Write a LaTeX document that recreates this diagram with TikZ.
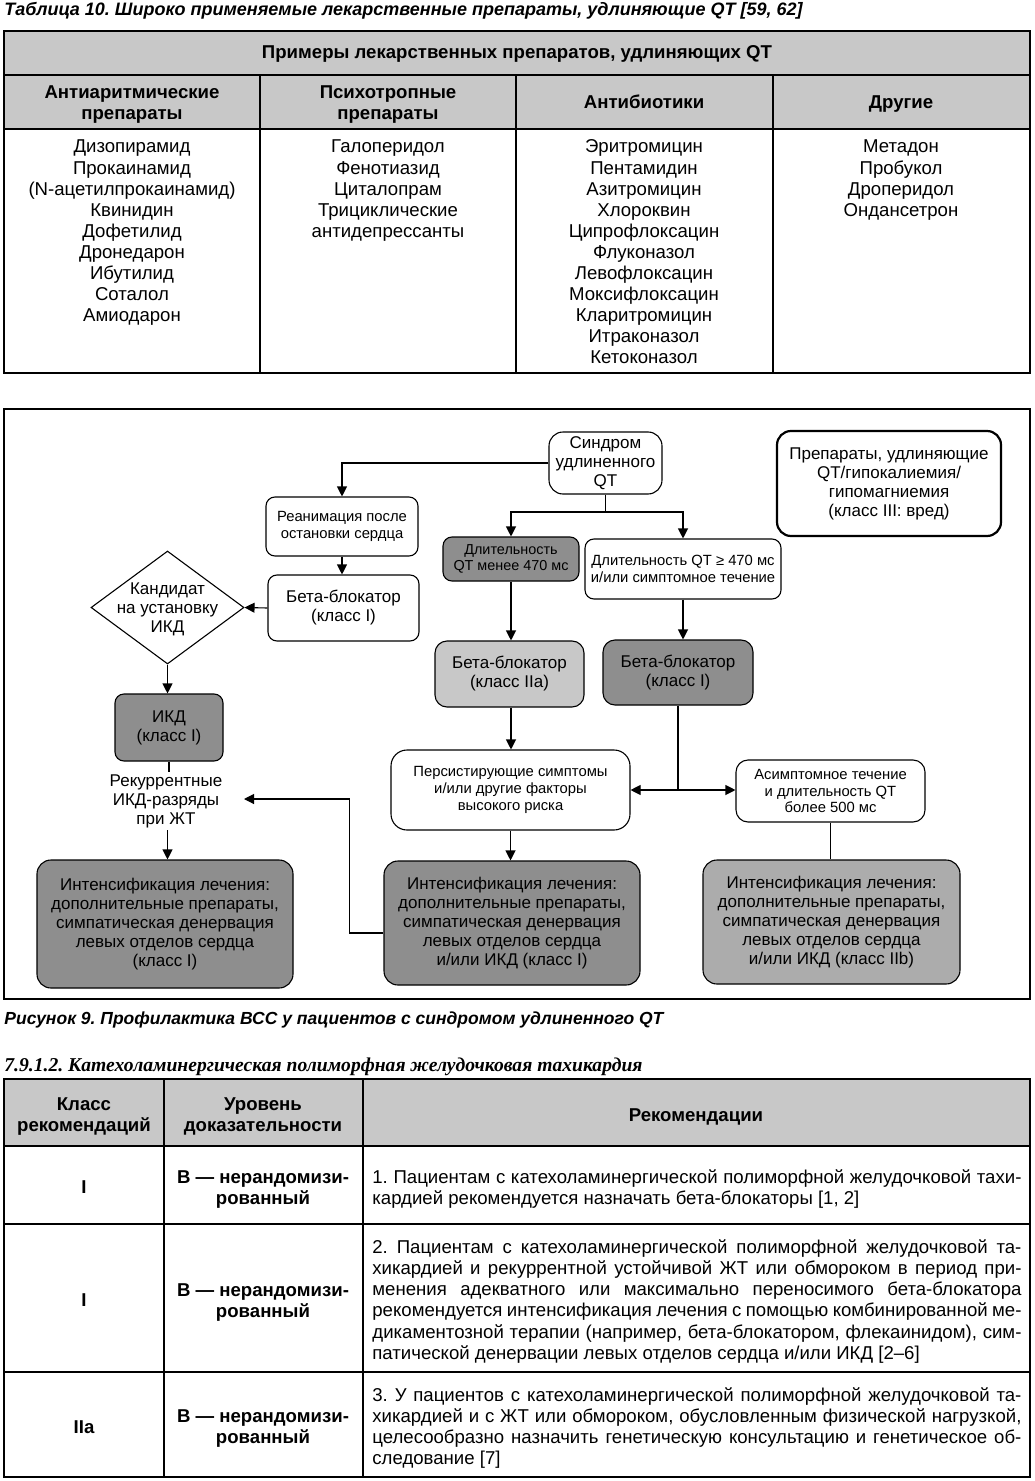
\documentclass[tikz,border=0pt]{standalone}
\usepackage{fontspec}
\setmainfont{Liberation Sans}
\newfontfamily\serifit{Liberation Serif}
\usetikzlibrary{arrows.meta,shapes.geometric}
\definecolor{hdr}{RGB}{200,200,200}
\definecolor{dk}{RGB}{142,142,142}
\definecolor{lt}{RGB}{200,200,200}
\definecolor{md}{RGB}{172,172,172}
\newcommand\ftab{\fontsize{9.3}{10.5}\selectfont}
\newcommand\ffa{\fontsize{8.5}{9.5}\selectfont}
\newcommand\ffb{\fontsize{7.4}{8.3}\selectfont}
\newcommand\ffc{\fontsize{7.2}{8}\selectfont}
\newcommand\jl[1]{\makebox[324.5pt][s]{#1}}
\frenchspacing
\begin{document}
\frenchspacing
\begin{tikzpicture}[x=0.5pt,y=-0.5pt,
  tl/.style={line width=0.7pt},
  fl/.style={line width=0.55pt},
  arr/.style={fl,-{Triangle[length=5pt,width=5pt]}},
  bx/.style={draw,line width=0.55pt,rounded corners=4.5pt,align=center,inner sep=0pt,font=\ffa},
  tb/.style={anchor=base,font=\ftab,inner sep=0pt},
  tbb/.style={anchor=base,font=\ftab\bfseries,inner sep=0pt},
  tbl/.style={anchor=base west,font=\ftab,inner sep=0pt}]
\useasboundingbox[fill=white] (0,0) rectangle (1034,1481);

% ---------- Table 10 ----------
\node[anchor=base west,inner sep=0pt,font=\fontsize{9}{10}\selectfont\bfseries\itshape] (title) at (4,16)
  {Таблица 10. Широко применяемые лекарственные препараты, удлиняющие QT [59, 62]};
\fill[hdr] (4,31) rectangle (1030,129);
\draw[tl] (4,31) rectangle (1030,373);
\draw[tl] (4,75) -- (1030,75) (4,129) -- (1030,129);
\draw[tl] (260,75) -- (260,373) (516,75) -- (516,373) (773,75) -- (773,373);
\node[tbb] (h0) at (517,59) {Примеры лекарственных препаратов, удлиняющих QT};
\node[tbb] (h1a) at (132,99) {Антиаритмические};
\node[tbb] (h1b) at (132,120) {препараты};
\node[tbb] (h2a) at (388,99) {Психотропные};
\node[tbb] (h2b) at (388,120) {препараты};
\node[tbb] (h3) at (644,109) {Антибиотики};
\node[tbb] (h4) at (901,109) {Другие};
\foreach \t [count=\i] in {Дизопирамид,Прокаинамид,(N-ацетилпрокаинамид),Квинидин,Дофетилид,Дронедарон,Ибутилид,Соталол,Амиодарон}
  \node[tb] (ca\i) at (132,{153+21.1*(\i-1)}) {\t};
\foreach \t [count=\i] in {Галоперидол,Фенотиазид,Циталопрам,Трициклические,антидепрессанты}
  \node[tb] (cb\i) at (388,{153+21.1*(\i-1)}) {\t};
\foreach \t [count=\i] in {Эритромицин,Пентамидин,Азитромицин,Хлороквин,Ципрофлоксацин,Флуконазол,Левофлоксацин,Моксифлоксацин,Кларитромицин,Итраконазол,Кетоконазол}
  \node[tb] (cc\i) at (644,{153+21.1*(\i-1)}) {\t};
\foreach \t [count=\i] in {Метадон,Пробукол,Дроперидол,Ондансетрон}
  \node[tb] (cd\i) at (901,{153+21.1*(\i-1)}) {\t};

% ---------- Figure 9 ----------
\draw[fl] (4,409) rectangle (1030,999);
\node[bx,rounded corners=7pt,minimum width=56.5pt,minimum height=31pt] (synd) at (605.5,463) {Синдром\\удлиненного\\QT};
\node[bx,line width=1.1pt,rounded corners=7pt,minimum width=112pt,minimum height=52.5pt] (drugs) at (889,483.5)
  {Препараты, удлиняющие\\QT/гипокалиемия/\\гипомагниемия\\(класс III: вред)};
\node[bx,font=\ffb,minimum width=76pt,minimum height=29.5pt] (reanim) at (342,526.5) {Реанимация после\\остановки сердца};
\node[bx,minimum width=75.5pt,minimum height=33pt] (bb1) at (343.5,608) {Бета-блокатор\\(класс I)};
\node[diamond,draw,fl,minimum width=76.5pt,minimum height=56.5pt,inner sep=0pt] (cand) at (167.5,607.5) {};
\node[font=\ffa,align=center,inner sep=0pt] (candt) at (167.5,609) {Кандидат\\на установку\\ИКД};
\node[bx,fill=dk,minimum width=54pt,minimum height=33.5pt] (ikd) at (169,727.5) {ИКД\\(класс I)};
\node[font=\ffa,align=center,inner sep=1pt] (rec) at (166,801) {Рекуррентные\\ИКД-разряды\\при ЖТ};
\node[bx,fill=dk,rounded corners=7pt,minimum width=128pt,minimum height=64pt] (bl) at (165,924)
  {Интенсификация лечения:\\дополнительные препараты,\\симпатическая денервация\\левых отделов сердца\\(класс I)};
\node[bx,fill=dk,font=\ffc,minimum width=68pt,minimum height=22pt] (short) at (511,559) {Длительность\\QT менее 470 мс};
\node[bx,font=\ffb,minimum width=98pt,minimum height=30pt] (long) at (683,569) {Длительность QT ≥ 470 мс\\и/или симптомное течение};
\node[bx,fill=lt,rounded corners=6pt,minimum width=74.5pt,minimum height=33pt] (bb2a) at (509.5,674) {Бета-блокатор\\(класс IIa)};
\node[bx,fill=dk,rounded corners=6pt,minimum width=75pt,minimum height=32.5pt] (bb1r) at (678,672.5) {Бета-блокатор\\(класс I)};
\node[bx,font=\ffb,rounded corners=8pt,minimum width=119.5pt,minimum height=40pt] (pers) at (510.5,790)
  {Персистирующие симптомы\\и/или другие факторы\\высокого риска};
\node[bx,font=\ffb,rounded corners=6pt,minimum width=94.5pt,minimum height=31pt] (asym) at (830.5,791)
  {Асимптомное течение\\и длительность QT\\более 500 мс};
\node[bx,fill=dk,rounded corners=7pt,minimum width=128pt,minimum height=62pt] (bm) at (512,923)
  {Интенсификация лечения:\\дополнительные препараты,\\симпатическая денервация\\левых отделов сердца\\и/или ИКД (класс I)};
\node[bx,fill=md,rounded corners=7pt,minimum width=128.5pt,minimum height=62pt] (br) at (831.5,922)
  {Интенсификация лечения:\\дополнительные препараты,\\симпатическая денервация\\левых отделов сердца\\и/или ИКД (класс IIb)};

\draw[arr] (synd.west) -| (reanim.north);
\draw[arr] (reanim.south) -- (bb1.north -| reanim.south);
\draw[arr] (bb1.west) -- (cand.east);
\draw[arr] (cand.south) -- (ikd.north -| cand.south);
\draw[fl] (ikd.south) -- (rec.north -| ikd.south);
\draw[arr] (rec.south -| cand.south) -- (bl.north -| cand.south);
\coordinate (split) at (605.5,512);
\draw[fl] (synd.south) -- (split);
\draw[arr] (split) -| (short.north);
\draw[arr] (split) -| (long.north);
\draw[arr] (short.south) -- (short.south |- bb2a.north);
\draw[arr] (long.south) -- (long.south |- bb1r.north);
\draw[arr] (bb2a.south -| short.south) -- (pers.north -| short.south);
\coordinate (junc) at (bb1r.south |- pers.east);
\draw[fl] (bb1r.south) -- (junc);
\draw[arr] (junc) -- (pers.east);
\draw[arr] (junc) -- (junc -| asym.west);
\draw[fl] (asym.south) -- (br.north -| asym.south);
\draw[arr] (pers.south) -- (bm.north -| pers.south);
\coordinate (recin) at (244,799);
\draw[arr] ([yshift=-5pt]bm.west) -- ++(-34,0) |- (recin);

\node[anchor=base west,inner sep=0pt,font=\fontsize{8.75}{10}\selectfont\bfseries\itshape] (cap) at (4,1024)
  {Рисунок 9. Профилактика ВСС у пациентов с синдромом удлиненного QT};

% ---------- section ----------
\node[anchor=base west,inner sep=0pt,font=\serifit\fontsize{9.8}{12}\selectfont\bfseries\itshape] (sec) at (4,1071)
  {7.9.1.2. Катехоламинергическая полиморфная желудочковая тахикардия};

\fill[hdr] (4,1079) rectangle (1030,1146);
\draw[tl] (4,1079) rectangle (1030,1477);
\draw[tl] (4,1146) -- (1030,1146) (4,1224) -- (1030,1224) (4,1372) -- (1030,1372);
\draw[tl] (164,1079) -- (164,1477) (363,1079) -- (363,1477);
\node[tbb] (k1) at (84,1110) {Класс};
\node[tbb] (k2) at (84,1131) {рекомендаций};
\node[tbb] (u1) at (263,1110) {Уровень};
\node[tbb] (u2) at (263,1131) {доказательности};
\node[tbb] (r0) at (696,1121) {Рекомендации};

\node[tbb] (c1) at (84,1193) {I};
\node[tbb] (l1a) at (263,1183) {В — нерандомизи-};
\node[tbb] (l1b) at (263,1204) {рованный};
\node[tbl] (t1a) at (372,1183) {\jl{1. Пациентам с катехоламинергической полиморфной желудочковой тахи-}};
\node[tbl] (t1b) at (372,1204) {кардией рекомендуется назначать бета-блокаторы [1, 2]};

\node[tbb] (c2) at (84,1306) {I};
\node[tbb] (l2a) at (263,1296) {В — нерандомизи-};
\node[tbb] (l2b) at (263,1317) {рованный};
\node[tbl] (t2a) at (372,1253) {\jl{2. Пациентам с катехоламинергической полиморфной желудочковой та-}};
\node[tbl] (t2b) at (372,1274) {\jl{хикардией и рекуррентной устойчивой ЖТ или обмороком в период при-}};
\node[tbl] (t2c) at (372,1295) {\jl{менения адекватного или максимально переносимого бета-блокатора}};
\node[tbl] (t2d) at (372,1316) {\jl{рекомендуется интенсификация лечения с помощью комбинированной ме-}};
\node[tbl] (t2e) at (372,1338) {\jl{дикаментозной терапии (например, бета-блокатором, флекаинидом), сим-}};
\node[tbl] (t2f) at (372,1359) {патической денервации левых отделов сердца и/или ИКД [2–6]};

\node[tbb] (c3) at (84,1433) {IIa};
\node[tbb] (l3a) at (263,1422) {В — нерандомизи-};
\node[tbb] (l3b) at (263,1443) {рованный};
\node[tbl] (t3a) at (372,1401) {\jl{3. У пациентов с катехоламинергической полиморфной желудочковой та-}};
\node[tbl] (t3b) at (372,1422) {\jl{хикардией и с ЖТ или обмороком, обусловленным физической нагрузкой,}};
\node[tbl] (t3c) at (372,1443) {\jl{целесообразно назначить генетическую консультацию и генетическое об-}};
\node[tbl] (t3d) at (372,1464) {следование [7]};
\end{tikzpicture}
\end{document}
